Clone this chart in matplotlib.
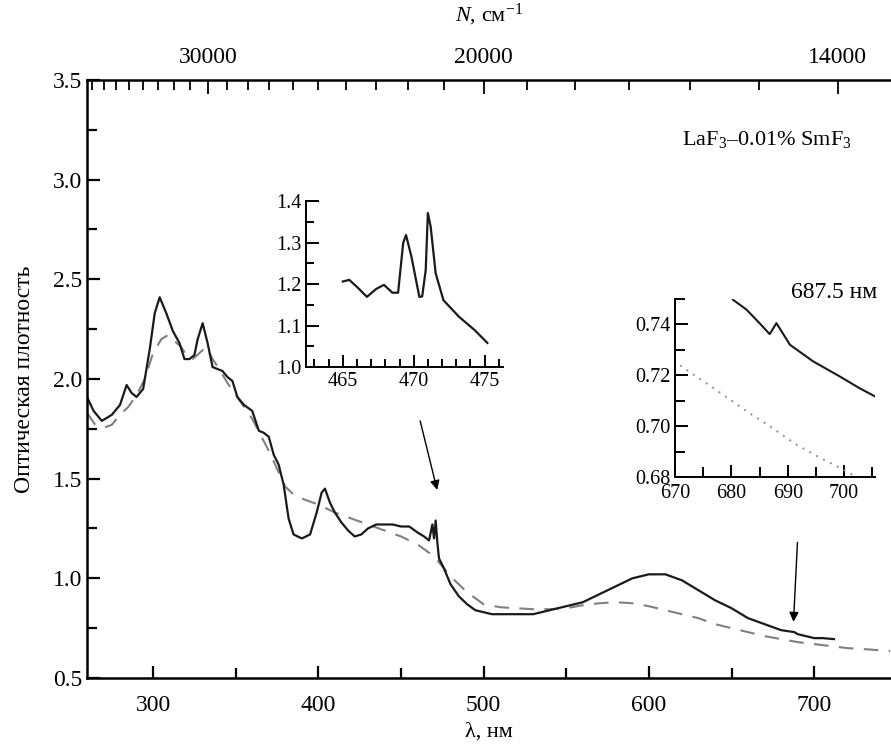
import matplotlib
matplotlib.use('Agg')
import matplotlib.pyplot as plt
import numpy as np

plt.rcParams['font.family'] = ['Liberation Serif', 'DejaVu Serif']
plt.rcParams['mathtext.fontset'] = 'custom'
plt.rcParams['mathtext.rm'] = 'Liberation Serif'
plt.rcParams['mathtext.it'] = 'Liberation Serif:italic'

# ---------------- data ----------------
sol_wl = [260, 264, 269, 275, 280, 284, 287, 290, 294, 298, 301, 304, 308, 312, 316, 319,
          322, 325, 327, 330, 333, 336, 339, 342, 345, 348, 351, 355, 360, 364, 367, 370,
          373, 376, 379, 382, 385, 390, 395, 399, 402, 404, 407, 410, 414, 418, 422, 426,
          430, 435, 440, 445, 450, 455, 460, 464, 467, 469, 470, 471, 472, 473, 476, 480,
          485, 490, 495, 500, 505, 510, 520, 530, 540, 550, 560, 570, 580, 590, 600, 610,
          620, 630, 640, 650, 660, 670, 680, 688, 690, 695, 700, 705, 712]
sol_od = [1.91, 1.84, 1.79, 1.82, 1.87, 1.97, 1.93, 1.91, 1.95, 2.15, 2.33, 2.41, 2.33, 2.24, 2.18, 2.10,
          2.10, 2.12, 2.20, 2.28, 2.18, 2.06, 2.05, 2.04, 2.01, 1.99, 1.91, 1.87, 1.84, 1.74, 1.73, 1.71,
          1.62, 1.57, 1.47, 1.30, 1.22, 1.20, 1.22, 1.33, 1.43, 1.45, 1.38, 1.33, 1.28, 1.24, 1.21, 1.22,
          1.25, 1.27, 1.27, 1.27, 1.26, 1.26, 1.23, 1.21, 1.19, 1.27, 1.20, 1.29, 1.18, 1.10, 1.05, 0.97,
          0.91, 0.87, 0.84, 0.83, 0.82, 0.82, 0.82, 0.82, 0.84, 0.86, 0.88, 0.92, 0.96, 1.00, 1.02, 1.02,
          0.99, 0.94, 0.89, 0.85, 0.80, 0.77, 0.74, 0.73, 0.72, 0.71, 0.70, 0.70, 0.695]

ref_wl = [260, 265, 270, 275, 280, 285, 290, 295, 300, 305, 309, 313, 317, 321, 324, 328, 332, 336,
          340, 345, 350, 355, 360, 365, 370, 375, 380, 385, 390, 400, 410, 420, 430, 440, 450, 460,
          465, 470, 475, 480, 485, 490, 495, 500, 510, 520, 530, 540, 550, 560, 570, 580, 590, 600,
          610, 620, 630, 640, 650, 660, 670, 680, 690, 700, 710, 720, 730, 746]
ref_od = [1.83, 1.77, 1.755, 1.77, 1.82, 1.86, 1.92, 2.00, 2.13, 2.20, 2.22, 2.19, 2.16, 2.11, 2.10, 2.13, 2.16, 2.10,
          2.05, 1.98, 1.92, 1.86, 1.80, 1.72, 1.64, 1.55, 1.46, 1.42, 1.40, 1.37, 1.33, 1.30, 1.27, 1.24, 1.21, 1.17,
          1.14, 1.11, 1.06, 1.01, 0.97, 0.93, 0.90, 0.87, 0.855, 0.85, 0.845, 0.845, 0.85, 0.865, 0.875, 0.88, 0.875, 0.86,
          0.84, 0.82, 0.80, 0.77, 0.75, 0.73, 0.71, 0.695, 0.68, 0.67, 0.66, 0.65, 0.645, 0.635]

in1_wl = [465.0, 465.45, 466.0, 466.7, 467.35, 467.9, 468.5, 468.9, 469.26, 469.46, 469.84, 470.4,
          470.6, 470.85, 471.0, 471.2, 471.55, 472.1, 473.2, 474.3, 475.2]
in1_od = [1.206, 1.21, 1.193, 1.169, 1.188, 1.198, 1.179, 1.179, 1.299, 1.318, 1.266, 1.169,
          1.17, 1.234, 1.371, 1.338, 1.226, 1.161, 1.121, 1.089, 1.058]

in2_sol_wl = [680.3, 682.7, 685.0, 686.8, 688.0, 690.4, 694.5, 699.2, 702.7, 705.4]
in2_sol_od = [0.7497, 0.7458, 0.7405, 0.7362, 0.7405, 0.732, 0.7255, 0.7196, 0.715, 0.7118]
in2_ref_wl = [670.9, 676.8, 682.7, 686.8, 691.5, 695.7, 699.2, 702.2]
in2_ref_od = [0.7239, 0.715, 0.7059, 0.700, 0.6928, 0.6876, 0.6837, 0.680]

top_major_n = [30000, 20000, 14000]
top_minor_n = list(range(15000, 39000, 1000))

arrow1 = ((461.6, 1.79), (471.9, 1.443))
arrow2 = ((689.9, 1.18), (687.5, 0.782))

# ---------------- figure ----------------
fig = plt.figure(figsize=(8.91, 7.47), dpi=100)
ax = fig.add_axes([0.0976, 0.0924, 0.9024, 0.8005])
ax.plot(ref_wl, ref_od, color='#808080', lw=1.5, dashes=(7, 5))
ax.plot(sol_wl, sol_od, color='#1a1a1a', lw=1.6)
ax.set_xlim(260, 746.5)
ax.set_ylim(0.5, 3.5)
ax.set_xticks([300, 400, 500, 600, 700])
ax.set_xticks([350, 450, 550, 650], minor=True)
ax.set_yticks([0.5, 1.0, 1.5, 2.0, 2.5, 3.0, 3.5])
ax.set_yticks(np.arange(0.75, 3.5, 0.5), minor=True)
ax.set_yticklabels(['0.5', '1.0', '1.5', '2.0', '2.5', '3.0', '3.5'])
ax.tick_params(which='both', direction='in', width=1.6, labelsize=17, top=False, right=False)
ax.tick_params(which='major', length=9)
ax.tick_params(which='minor', length=7)
ax.tick_params(axis='x', pad=12)
for s in ['left', 'bottom', 'top']:
    ax.spines[s].set_linewidth(1.8)
ax.spines['right'].set_visible(False)
ax.set_xlabel('λ, нм', fontsize=16, labelpad=5)
ax.set_ylabel('Оптическая плотность', fontsize=17, labelpad=13)

ax2 = ax.twiny()
ax2.set_xlim(ax.get_xlim())
xl = ax.get_xlim()
ax2.set_xticks([1e7 / n for n in top_major_n])
ax2.set_xticklabels([str(n) for n in top_major_n])
ax2.set_xticks([1e7 / n for n in top_minor_n if n not in top_major_n and xl[0] < 1e7 / n < xl[1]], minor=True)
ax2.tick_params(which='both', direction='in', width=1.3, labelsize=17, pad=9)
ax2.tick_params(which='major', length=10)
ax2.tick_params(which='minor', length=7)
for s in ['left', 'right', 'bottom', 'top']:
    ax2.spines[s].set_visible(False)
ax2.set_xlabel(r'$N$, см$^{-1}$', fontsize=16, labelpad=18)

ax.text(0.846, 0.90, r'LaF$_3$–0.01% SmF$_3$', transform=ax.transAxes, fontsize=16,
        ha='center', va='center')
ax.text(0.929, 0.645, '687.5 нм', transform=ax.transAxes, fontsize=17, ha='center', va='center')

for (p0, p1) in (arrow1, arrow2):
    ax.annotate('', xy=p1, xytext=p0,
                arrowprops=dict(arrowstyle='-|>', color='black', lw=1.0, mutation_scale=14,
                                shrinkA=0, shrinkB=0))

# ---------------- inset 1 ----------------
a1 = fig.add_axes([0.3434, 0.5087, 0.2211, 0.2222])
a1.patch.set_alpha(0)
a1.plot(in1_wl, in1_od, color='#1a1a1a', lw=1.6)
a1.set_xlim(462.4, 476.3)
a1.set_ylim(1.0, 1.4)
a1.set_xticks([465, 470, 475])
a1.set_xticks([463, 464, 466, 467, 468, 469, 471, 472, 473, 474, 476], minor=True)
a1.set_yticks([1.0, 1.1, 1.2, 1.3, 1.4])
a1.set_yticklabels(['1.0', '1.1', '1.2', '1.3', '1.4'])
a1.set_yticks([1.05, 1.15, 1.25, 1.35], minor=True)
a1.tick_params(which='both', direction='in', width=1.4, labelsize=14.5)
a1.tick_params(which='major', length=9)
a1.tick_params(which='minor', length=6)
a1.spines['top'].set_visible(False)
a1.spines['right'].set_visible(False)
for s in ['left', 'bottom']:
    a1.spines[s].set_linewidth(1.4)

# ---------------- inset 2 ----------------
a2 = fig.add_axes([0.7576, 0.3614, 0.2245, 0.2383])
a2.patch.set_alpha(0)
a2.plot(in2_ref_wl, in2_ref_od, color='#909090', lw=1.4, linestyle=(0, (1, 3)))
a2.plot(in2_sol_wl, in2_sol_od, color='#1a1a1a', lw=1.5)
a2.set_xlim(670, 705.5)
a2.set_ylim(0.68, 0.75)
a2.set_xticks([670, 680, 690, 700])
a2.set_xticks([675, 685, 695, 705], minor=True)
a2.set_yticks([0.68, 0.70, 0.72, 0.74])
a2.set_yticklabels(['0.68', '0.70', '0.72', '0.74'])
a2.set_yticks([0.69, 0.71, 0.73, 0.75], minor=True)
a2.tick_params(which='both', direction='in', width=1.4, labelsize=14.5)
a2.tick_params(axis='y', pad=3)
a2.tick_params(axis='x', pad=5)
a2.tick_params(which='major', length=9)
a2.tick_params(which='minor', length=7)
a2.spines['top'].set_visible(False)
a2.spines['right'].set_visible(False)
for s in ['left', 'bottom']:
    a2.spines[s].set_linewidth(1.4)

fig.savefig('out.png', dpi=100)
